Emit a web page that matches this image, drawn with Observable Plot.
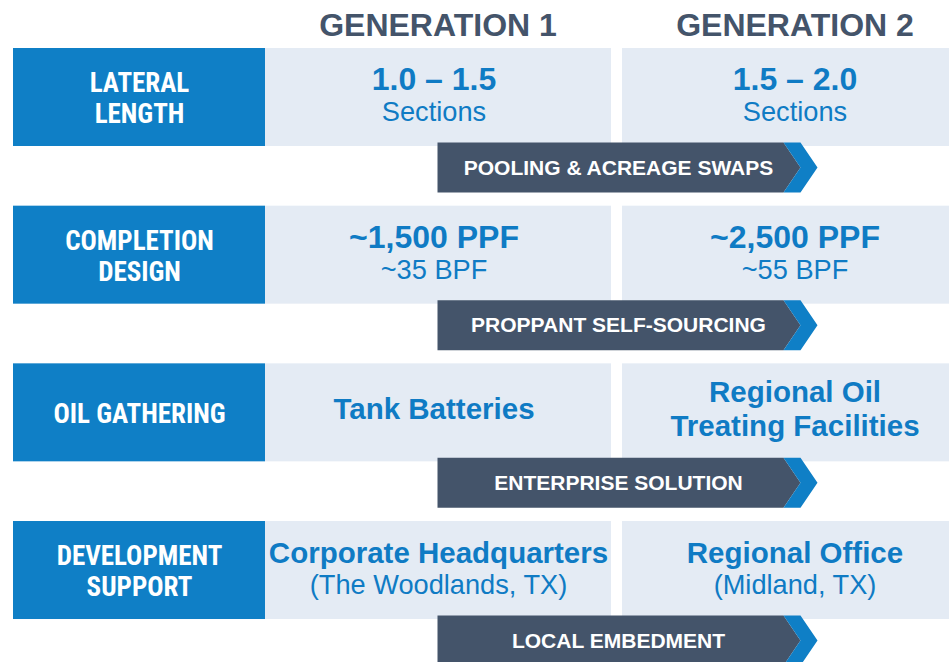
<!DOCTYPE html>
<html>
<head>
<meta charset="utf-8">
<script src="https://cdn.jsdelivr.net/npm/d3@7"></script>
<script src="https://cdn.jsdelivr.net/npm/@observablehq/plot@0.6"></script>
<style>
  html, body { margin: 0; padding: 0; background: #ffffff; }
  #chart svg { display: block; }
</style>
</head>
<body>
<div id="chart"></div>
<script>
// ---- Content ----
const generations = ["GENERATION 1", "GENERATION 2"];
const categories = ["LATERAL\nLENGTH", "COMPLETION\nDESIGN", "OIL GATHERING", "DEVELOPMENT\nSUPPORT"];
const gen1Primary = ["1.0 – 1.5", "~1,500 PPF", "Tank Batteries", "Corporate Headquarters"];
const gen1Secondary = ["Sections", "~35 BPF", "", "(The Woodlands, TX)"];
const gen2Primary = ["1.5 – 2.0", "~2,500 PPF", "Regional Oil\nTreating Facilities", "Regional Office"];
const gen2Secondary = ["Sections", "~55 BPF", "", "(Midland, TX)"];
const enablers = ["POOLING & ACREAGE SWAPS", "PROPPANT SELF-SOURCING", "ENTERPRISE SOLUTION", "LOCAL EMBEDMENT"];

// ---- Layout & style ----
const W = 949, H = 662;
const labelX = [13, 265], colX = [[265, 611], [622, 966]];
const colTextX = [[433.5, 433.5, 433.5, 438], [794.5, 794.5, 794.5, 794.5]];
const headX = [437.5, 794.5];
const primarySize = [32, 32, 29.5, 29.5];
const rowTop0 = 48, rowPitch = 157.67, rowH = 98;
const bannerOffset = 94, bannerH = 50, bannerX1 = 437, notchX = 783, chevW = 17;
const C = { blue: "#0F7FC6", light: "#E4EBF4", dark: "#44546A", text: "#0F7BC4", white: "#FFFFFF" };
const sans = "'Liberation Sans', Arial, Helvetica, sans-serif";
const narrow = "'Liberation Sans Narrow', 'Arial Narrow', 'Roboto Condensed', 'Liberation Sans', sans-serif";

const rowTop = i => rowTop0 + i * rowPitch;

const rows = categories.map((label, i) => ({ i, label }));
const cells = [];
[gen1Primary, gen2Primary].forEach((arr, c) => arr.forEach((p, i) => {
  const s = (c === 0 ? gen1Secondary : gen2Secondary)[i];
  cells.push({ i, c, primary: p, secondary: s });
}));
const heads = generations.map((g, c) => ({ g, c }));
const banners = enablers.map((t, i) => ({ t, i }));

// banner polygons (dark body + blue chevron)
const bodyPts = [], chevPts = [];
banners.forEach(({ i }) => {
  const y1 = rowTop(i) + bannerOffset, y2 = y1 + bannerH, ym = (y1 + y2) / 2;
  [[bannerX1, y1], [notchX, y1], [notchX + chevW, ym], [notchX, y2], [bannerX1, y2]]
    .forEach(([x, y]) => bodyPts.push({ k: i, x, y }));
  [[notchX, y1], [notchX + chevW, y1], [notchX + 2 * chevW, ym], [notchX + chevW, y2], [notchX, y2], [notchX + chevW, ym]]
    .forEach(([x, y]) => chevPts.push({ k: i, x, y }));
});

const primaryMark = (size) => Plot.text(cells.filter(d => primarySize[d.i] === size), {
  x: d => colTextX[d.c][d.i], y: d => rowTop(d.i) + (d.secondary ? 30 : 44),
  text: "primary", fontSize: size, lineHeight: 1.17, fontWeight: "bold", fill: C.text, fontFamily: sans
});

const chart = Plot.plot({
  width: W, height: H,
  margin: 0,
  style: { background: "#ffffff", fontFamily: sans },
  x: { type: "linear", domain: [0, W], range: [0, W], axis: null },
  y: { type: "linear", domain: [0, H], range: [0, H], axis: null },
  marks: [
    // column headers
    Plot.text(heads, { x: d => headX[d.c], y: 25, text: "g", fontSize: 32, fontWeight: "bold", fill: C.dark, fontFamily: sans }),
    // row label boxes
    Plot.rect(rows, { x1: labelX[0], x2: labelX[1], y1: d => rowTop(d.i), y2: d => rowTop(d.i) + rowH, fill: C.blue }),
    // cells
    Plot.rect(cells, { x1: d => colX[d.c][0], x2: d => colX[d.c][1], y1: d => rowTop(d.i), y2: d => rowTop(d.i) + rowH, fill: C.light }),
    // row labels
    Plot.text(rows, { x: (labelX[0] + labelX[1]) / 2, y: d => rowTop(d.i) + 49.5, text: "label", fontSize: 27, lineHeight: 1.15, fontWeight: "bold", fill: C.white, fontFamily: narrow }),
    // primary cell text
    ...[...new Set(primarySize)].map(primaryMark),
    // secondary cell text
    Plot.text(cells.filter(d => d.secondary), { x: d => colTextX[d.c][d.i], y: d => rowTop(d.i) + 64, text: "secondary", fontSize: 27.2, fill: C.text, fontFamily: sans }),
    // enabler banners
    Plot.line(bodyPts, { x: "x", y: "y", z: "k", fill: C.dark, stroke: "none" }),
    Plot.line(chevPts, { x: "x", y: "y", z: "k", fill: C.blue, stroke: "none" }),
    Plot.text(banners, { x: (bannerX1 + notchX + chevW) / 2 - 0.5, y: d => rowTop(d.i) + bannerOffset + bannerH / 2 + 0.5, text: "t", fontSize: 21, fontWeight: "bold", fill: C.white, fontFamily: sans })
  ]
});
document.getElementById("chart").appendChild(chart);
</script>
</body>
</html>
